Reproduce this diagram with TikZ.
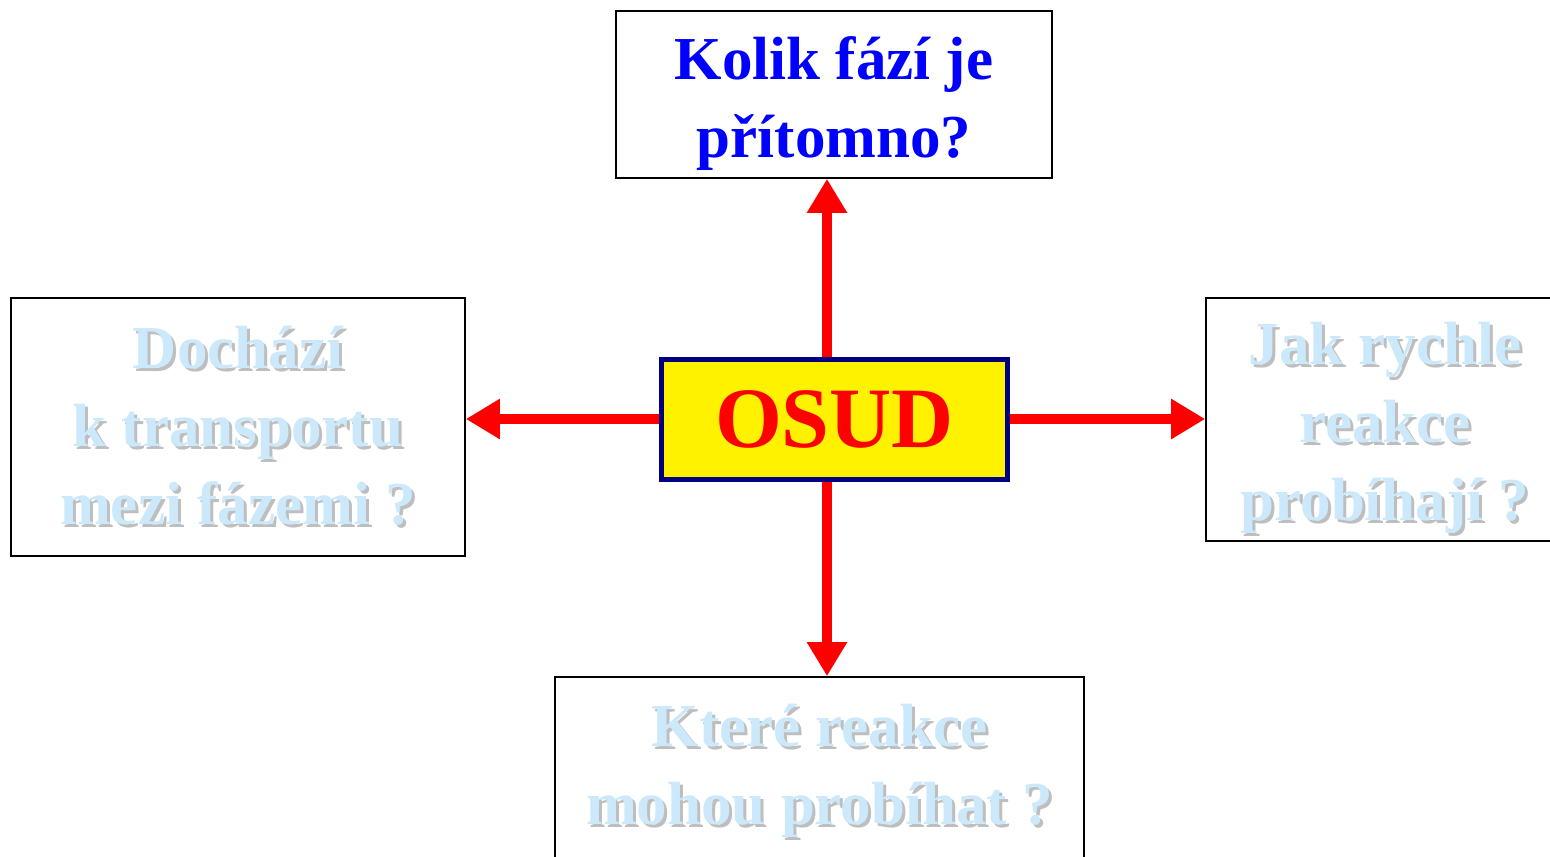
\documentclass[tikz,border=0pt]{standalone}
\usepackage{fontspec}
\setmainfont{Liberation Serif}
\usetikzlibrary{arrows.meta,positioning}

\definecolor{qblue}{HTML}{0000FF}
\definecolor{osudred}{HTML}{FF0000}
\definecolor{osudnavy}{HTML}{000080}
\definecolor{paleblue}{HTML}{CCE9FB}
\definecolor{shadegray}{HTML}{BEBEBE}

% pale text with a soft shadow
\newcommand{\shd}[1]{\makebox[0pt][l]{\hspace{1.5pt}\raisebox{-1.5pt}{\color{shadegray}#1}}#1}

\begin{document}
\begin{tikzpicture}[
  x=0.5pt, y=-0.5pt,
  qbox/.style={draw, thick, rectangle, inner sep=0pt},
  qtext/.style={align=center, inner sep=0pt,
    font=\fontsize{30.5}{39}\selectfont\bfseries},
  osudbox/.style={draw=osudnavy, line width=2.5pt, fill=yellow, rectangle,
    inner sep=0pt, minimum width=173pt, minimum height=60pt,
    text=osudred, font=\fontsize{43}{46}\selectfont\bfseries},
  fate/.style={draw=osudred, line width=5pt,
    -{Triangle[length=17pt,width=19pt]}}
]
  \useasboundingbox (0,0) rectangle (1550,856);

  % centre
  \node[osudbox] (osud) at (834.5,419) {OSUD};

  % question boxes
  \node[qbox, minimum width=218pt, minimum height=83.5pt] (q1) at (834,94.5) {};
  \node[qbox, minimum width=227pt, minimum height=129pt] (q2) at (238,427) {};
  \node[qbox, minimum width=179pt, minimum height=121.5pt] (q3) at (1385,419.5) {};
  \node[qbox, minimum width=264.5pt, minimum height=98pt] (q4) at (819.5,775) {};

  % question texts
  \node[qtext, text=qblue] (q1t) at ([yshift=-4.5pt]q1.center)
    {Kolik fází je\\přítomno?};
  \node[qtext, text=paleblue] (q2t) at ([yshift=0pt]q2.center)
    {\shd{Dochází}\\\shd{k transportu}\\\shd{mezi fázemi ?}};
  \node[qtext, text=paleblue] (q3t) at ([yshift=-5pt]q3.center)
    {\shd{Jak rychle}\\\shd{reakce}\\\shd{probíhají ?}};
  \node[qtext, text=paleblue] (q4t) at ([yshift=1.5pt]q4.center)
    {\shd{Které reakce}\\\shd{mohou probíhat ?}};

  % arrows
  \coordinate (ax) at (827,0);
  \draw[fate] (osud.north -| ax) -- (q1.south -| ax);
  \draw[fate] (osud.south -| ax) -- (q4.north -| ax);
  \draw[fate] (osud.west) -- (osud.west -| q2.east);
  \draw[fate] (osud.east) -- (osud.east -| q3.west);

\end{tikzpicture}
\end{document}
